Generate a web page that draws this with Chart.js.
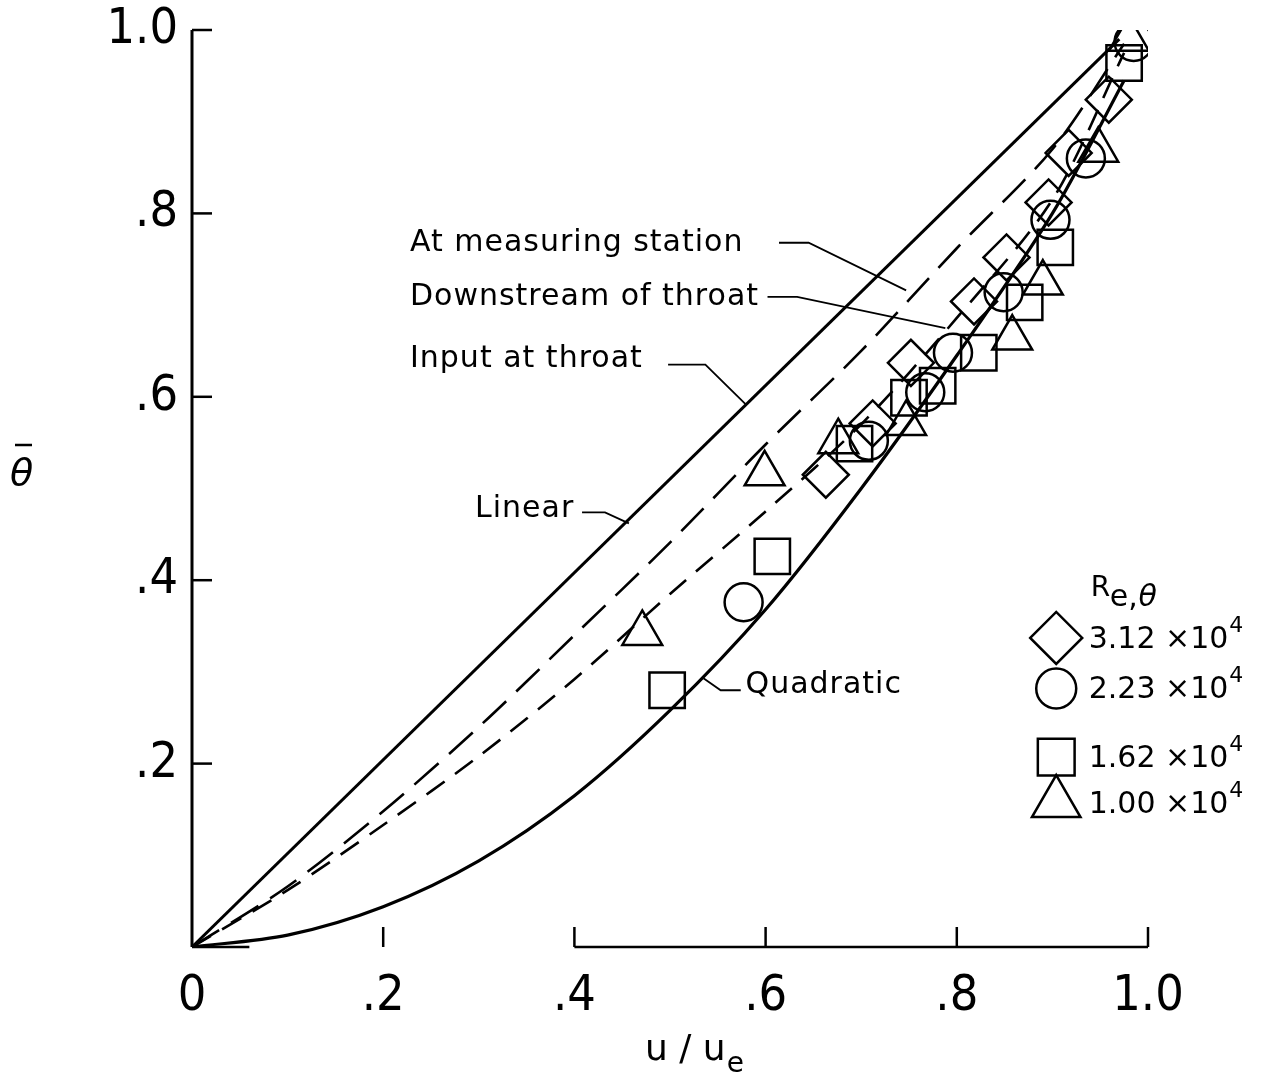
<!DOCTYPE html>
<html>
<head>
<meta charset="utf-8">
<script src="https://cdn.jsdelivr.net/npm/chart.js@4.4.1/dist/chart.umd.min.js"></script>
<style>
  html, body { margin: 0; padding: 0; background: #fff; }
  #wrap { width: 1273px; height: 1081px; }
</style>
</head>
<body>
<div id="wrap"><canvas id="myChart" width="1273" height="1081"></canvas></div>
<script>
// axis ticks
const tickValues = [0, 0.2, 0.4, 0.6, 0.8, 1.0];
const xTickLabels = ['0', '.2', '.4', '.6', '.8', '1.0'];
const yTickLabels = ['', '.2', '.4', '.6', '.8', '1.0'];

// reference curves (u/ue, theta bar)
const linearX = [0, 0.97];
const linearY = [0, 0.99];
const curveX = [0, 0.1, 0.2, 0.3, 0.4, 0.5, 0.6, 0.7, 0.8, 0.9, 0.975];
const measuringY = [0, 0.066, 0.148, 0.240, 0.340, 0.441, 0.548, 0.650, 0.762, 0.870, 0.985];
const downstreamY = [0, 0.062, 0.133, 0.208, 0.292, 0.385, 0.475, 0.570, 0.686, 0.815, 0.975];
const quadraticY = [0, 0.013, 0.044, 0.094, 0.165, 0.258, 0.368, 0.500, 0.645, 0.800, 0.945];

// measured points, one list per Re_theta
const diamondX = [0.663, 0.712, 0.752, 0.818, 0.852, 0.896, 0.917, 0.959];
const diamondY = [0.515, 0.571, 0.637, 0.704, 0.752, 0.812, 0.866, 0.924];
const circleX = [0.577, 0.708, 0.767, 0.796, 0.849, 0.898, 0.935, 0.985];
const circleY = [0.376, 0.552, 0.605, 0.648, 0.714, 0.793, 0.860, 0.987];
const squareX = [0.497, 0.607, 0.693, 0.750, 0.780, 0.823, 0.871, 0.903, 0.975];
const squareY = [0.280, 0.426, 0.549, 0.599, 0.612, 0.648, 0.703, 0.763, 0.964];
const triangleX = [0.471, 0.599, 0.676, 0.747, 0.858, 0.890, 0.948, 0.980];
const triangleY = [0.342, 0.516, 0.551, 0.571, 0.664, 0.724, 0.869, 0.990];

const seriesNames = ['3.12', '2.23', '1.62', '1.00'];

const FONT = "'Liberation Sans Narrow', 'DejaVu Sans Condensed', 'DejaVu Sans', sans-serif";
const TEXTFONT = "'DejaVu Sans', sans-serif";

function pts(xs, ys) {
    return xs.map((x, i) => ({ x: x, y: ys[i] }));
}

function curve(label, xs, ys, dash, width, tension) {
    return {
        label: label,
        data: pts(xs, ys),
        showLine: true,
        borderColor: '#000',
        borderWidth: width,
        borderDash: dash,
        pointRadius: 0,
        tension: tension,
        fill: false
    };
}

function markers(label, xs, ys, style, r) {
    return {
        label: label,
        data: pts(xs, ys),
        showLine: false,
        pointStyle: style,
        pointRadius: r,
        pointBorderWidth: 2.5,
        pointBorderColor: '#000',
        pointBackgroundColor: 'rgba(0,0,0,0)',
        borderColor: '#000',
        backgroundColor: 'rgba(0,0,0,0)'
    };
}

// labels with leaders, in data units
const notes = [
    { text: 'At measuring station', x: 0.228, y: 0.768, lead: [[0.614, 0.768], [0.645, 0.768], [0.747, 0.716]] },
    { text: 'Downstream of throat', x: 0.228, y: 0.709, lead: [[0.602, 0.709], [0.633, 0.709], [0.788, 0.675]] },
    { text: 'Input at throat', x: 0.228, y: 0.641, lead: [[0.498, 0.635], [0.537, 0.635], [0.579, 0.592]] },
    { text: 'Linear', x: 0.296, y: 0.477, lead: [[0.408, 0.474], [0.432, 0.474], [0.457, 0.462]] },
    { text: 'Quadratic', x: 0.579, y: 0.285, lead: [[0.574, 0.280], [0.553, 0.280], [0.535, 0.293]] }
];

const legendRows = [
    { style: 'rectRot', r: 26, y: 0.337 },
    { style: 'circle', r: 20, y: 0.282 },
    { style: 'rect', r: 26, y: 0.207 },
    { style: 'triangle', r: 28, y: 0.157 }
];

const framePlugin = {
    id: 'frame',
    afterDatasetsDraw(chart) {
        const ctx = chart.ctx;
        const xs = chart.scales.x, ys = chart.scales.y;
        const px = v => xs.getPixelForValue(v);
        const py = v => ys.getPixelForValue(v);
        ctx.save();
        ctx.strokeStyle = '#000';
        ctx.fillStyle = '#000';
        ctx.setLineDash([]);

        // y axis with inward ticks
        ctx.lineWidth = 3;
        ctx.beginPath();
        ctx.moveTo(px(0), py(0));
        ctx.lineTo(px(0), py(1));
        ctx.stroke();
        ctx.lineWidth = 2.5;
        tickValues.slice(1).forEach(v => {
            ctx.beginPath();
            ctx.moveTo(px(0), py(v));
            ctx.lineTo(px(0) + 20, py(v));
            ctx.stroke();
        });

        // x axis (partly faded in the scan) with inward ticks
        ctx.lineWidth = 2.5;
        ctx.beginPath();
        ctx.moveTo(px(0), py(0));
        ctx.lineTo(px(0.06), py(0));
        ctx.moveTo(px(0.4), py(0));
        ctx.lineTo(px(1), py(0));
        ctx.stroke();
        tickValues.slice(1).forEach(v => {
            ctx.beginPath();
            ctx.moveTo(px(v), py(0));
            ctx.lineTo(px(v), py(0) - 20);
            ctx.stroke();
        });

        // notes
        ctx.font = '30px ' + TEXTFONT;
        ctx.letterSpacing = '1px';
        ctx.textBaseline = 'middle';
        ctx.textAlign = 'left';
        ctx.lineWidth = 1.8;
        notes.forEach(n => {
            ctx.fillText(n.text, px(n.x), py(n.y));
            ctx.beginPath();
            n.lead.forEach((p, i) => {
                if (i === 0) ctx.moveTo(px(p[0]), py(p[1]));
                else ctx.lineTo(px(p[0]), py(p[1]));
            });
            ctx.stroke();
        });
        ctx.letterSpacing = '0px';

        // axis titles
        ctx.textBaseline = 'alphabetic';
        ctx.font = '36px ' + TEXTFONT;
        const tx = 645, tb = 1060;
        ctx.fillText('u / u', tx, tb);
        const w = ctx.measureText('u / u').width;
        ctx.font = '28px ' + TEXTFONT;
        ctx.fillText('e', tx + w + 1, tb + 12);

        ctx.font = 'italic 38px ' + TEXTFONT;
        ctx.fillText('\u03b8', 10, 485);
        ctx.lineWidth = 2.5;
        ctx.beginPath();
        ctx.moveTo(15, 445);
        ctx.lineTo(32, 445);
        ctx.stroke();

        // legend
        const lx = 0.904, tx2 = 0.938;
        ctx.font = '28px ' + TEXTFONT;
        ctx.fillText('R', px(0.940), py(0.383));
        ctx.font = '30px ' + TEXTFONT;
        ctx.fillText('e,', px(0.960), py(0.372));
        ctx.font = 'italic 30px ' + TEXTFONT;
        ctx.fillText('\u03b8', px(0.990), py(0.372));

        legendRows.forEach((row, i) => {
            ctx.lineWidth = 2.5;
            ctx.fillStyle = 'rgba(0,0,0,0)';
            Chart.helpers.drawPoint(ctx, { pointStyle: row.style, radius: row.r, borderWidth: 2.5, rotation: 0 }, px(lx), py(row.y));
            ctx.fillStyle = '#000';
            ctx.font = '30px ' + TEXTFONT;
            ctx.textBaseline = 'middle';
            const s = seriesNames[i] + ' \u00d7' + '10';
            ctx.fillText(s, px(tx2), py(row.y) + 2);
            const sw = ctx.measureText(s).width;
            ctx.font = '22px ' + TEXTFONT;
            ctx.fillText('4', px(tx2) + sw + 1, py(row.y) - 12);
        });
        ctx.restore();
    }
};

const ctx = document.getElementById('myChart');
const myChart = new Chart(ctx, {
    type: 'scatter',
    data: {
        datasets: [
            curve('Linear', linearX, linearY, [], 3, 0),
            curve('At measuring station', curveX, measuringY, [32, 14], 2.6, 0.3),
            curve('Downstream of throat', curveX, downstreamY, [22, 13], 2.6, 0.3),
            curve('Quadratic', curveX, quadraticY, [], 3.2, 0.3),
            markers(seriesNames[0], diamondX, diamondY, 'rectRot', 23),
            markers(seriesNames[1], circleX, circleY, 'circle', 19),
            markers(seriesNames[2], squareX, squareY, 'rect', 25),
            markers(seriesNames[3], triangleX, triangleY, 'triangle', 23)
        ]
    },
    options: {
        responsive: false,
        animation: false,
        layout: { padding: { top: 30, right: 125, bottom: 0, left: 0 } },
        plugins: {
            legend: { display: false },
            tooltip: { enabled: false }
        },
        scales: {
            x: {
                type: 'linear',
                min: 0,
                max: 1,
                afterBuildTicks: s => { s.ticks = tickValues.map(v => ({ value: v })); },
                afterFit: s => { s.height = 134; s.paddingLeft = 0; s.paddingRight = 0; },
                grid: { display: false, drawTicks: false },
                border: { display: false },
                ticks: {
                    padding: 20,
                    color: '#000',
                    maxRotation: 0,
                    font: { family: FONT, size: 50 },
                    callback: (v, i) => xTickLabels[i]
                }
            },
            y: {
                type: 'linear',
                min: 0,
                max: 1,
                afterBuildTicks: s => { s.ticks = tickValues.map(v => ({ value: v })); },
                afterFit: s => { s.width = 192; s.paddingTop = 0; s.paddingBottom = 0; },
                grid: { display: false, drawTicks: false },
                border: { display: false },
                ticks: {
                    padding: 14,
                    color: '#000',
                    font: { family: FONT, size: 50 },
                    callback: (v, i) => yTickLabels[i]
                }
            }
        }
    },
    plugins: [framePlugin]
});
</script>
</body>
</html>
